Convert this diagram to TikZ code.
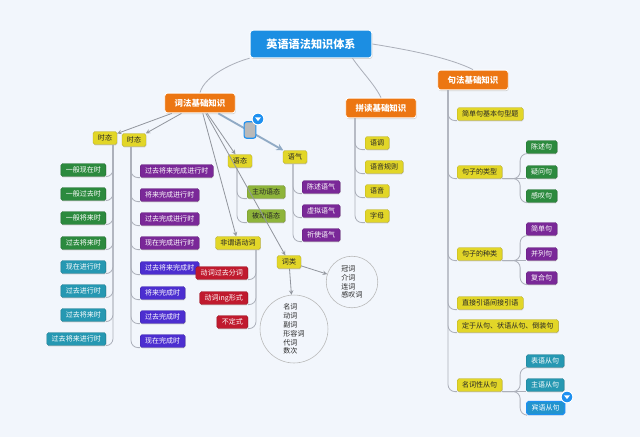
\documentclass[tikz,border=0pt]{standalone}
\usepackage{fontspec}
\newfontfamily\cjk{Noto Sans CJK SC}
\usepackage{tikz}
\usetikzlibrary{arrows}
\definecolor{cBack}{RGB}{242,246,252}
\definecolor{cBlu}{RGB}{28,142,226}
\definecolor{cOra}{RGB}{236,118,18}
\definecolor{cYel}{RGB}{226,214,40}
\definecolor{cGrn}{RGB}{44,138,62}
\definecolor{cTeal}{RGB}{38,152,178}
\definecolor{cPur}{RGB}{122,40,152}
\definecolor{cVio}{RGB}{76,46,208}
\definecolor{cOli}{RGB}{142,180,58}
\definecolor{cRed}{RGB}{192,26,46}
\definecolor{cLine}{RGB}{172,176,186}
\definecolor{cSel}{RGB}{30,144,240}
\tikzset{
  leaf/.style={rectangle, rounded corners=1.5pt, inner xsep=4.2pt, inner ysep=0pt,
    minimum height=11pt, text=white, fill=#1, draw=#1!80!black, line width=0.3pt,
    font=\cjk\fontsize{6}{7}\selectfont,
    preaction={fill=black!18, transform canvas={xshift=0.4pt,yshift=-0.8pt}}},
  topic/.style={leaf=cYel, text=black!85},
  main/.style={rectangle, rounded corners=2.5pt, fill=cOra, draw=white, line width=0.8pt,
    text=white, inner xsep=8.5pt, inner ysep=0pt, minimum height=17pt,
    font=\cjk\bfseries\fontsize{7.2}{8}\selectfont,
    preaction={fill=black!18, transform canvas={xshift=0.5pt,yshift=-1pt}}},
  root/.style={main, fill=cBlu, inner xsep=14pt, minimum height=23.5pt,
    font=\cjk\bfseries\fontsize{9.5}{10}\selectfont},
  bubble/.style={circle, draw=gray!55, line width=0.5pt, inner sep=0pt, align=left,
    text=black!85, font=\cjk\fontsize{6}{7.6}\selectfont},
  pin/.style={circle, fill=cSel, draw=white, line width=0.8pt, minimum size=10pt, inner sep=0pt},
  link/.style={draw=cLine, line width=0.7pt, rounded corners=6pt},
  arr/.style={draw=cLine!85!black, line width=0.7pt, ->, >=stealth}
}
\begin{document}
\begin{tikzpicture}[x=0.03cm,y=-0.03cm]
\fill[cBack] (0,0) rectangle (640,437);
\useasboundingbox (0,0) rectangle (640,437);

% main topics
\node[root] (R) at (311,44) {英语语法知识体系};
\node[main] (W) at (200,103) {词法基础知识};
\node[main] (P) at (381,108) {拼读基础知识};
\node[main] (J) at (473,80) {句法基础知识};
\draw[link] (R.south west) .. controls (235,62) and (205,75) .. (W.north);
\draw[link] ([xshift=-17pt]R.south east) .. controls (362,72) and (375,85) .. (P.north);
\draw[link] (R.east) .. controls (410,50) and (450,58) .. (J.north);

% tenses
\node[topic] (S1) at (105,138) {时态};
\node[topic] (S2) at (134,140) {时态};
\draw[arr] (W) -- (S1);
\draw[arr] (W) -- (S2);

\node[leaf=cGrn,anchor=east] (L1) at (106,170) {一般现在时};
\node[leaf=cGrn,anchor=east] (L2) at (106,194) {一般过去时};
\node[leaf=cGrn,anchor=east] (L3) at (106,218) {一般将来时};
\node[leaf=cGrn,anchor=east] (L4) at (106,243) {过去将来时};
\node[leaf=cTeal,anchor=east] (L5) at (106,267) {现在进行时};
\node[leaf=cTeal,anchor=east] (L6) at (106,291) {过去进行时};
\node[leaf=cTeal,anchor=east] (L7) at (106,315) {过去将来时};
\node[leaf=cTeal,anchor=east] (L8) at (106,339) {过去将来进行时};
\coordinate (tS1) at (113,145);
\draw[link] (tS1) |- (L1.south east);
\draw[link] (tS1) |- (L2.south east);
\draw[link] (tS1) |- (L3.south east);
\draw[link] (tS1) |- (L4.south east);
\draw[link] (tS1) |- (L5.south east);
\draw[link] (tS1) |- (L6.south east);
\draw[link] (tS1) |- (L7.south east);
\draw[link] (tS1) |- (L8.south east);

\node[leaf=cPur,anchor=west] (M1) at (140,171) {过去将来完成进行时};
\node[leaf=cPur,anchor=west] (M2) at (140,195) {将来完成进行时};
\node[leaf=cPur,anchor=west] (M3) at (140,219) {过去完成进行时};
\node[leaf=cPur,anchor=west] (M4) at (140,243) {现在完成进行时};
\node[leaf=cVio,anchor=west] (M5) at (140,268) {过去将来完成时};
\node[leaf=cVio,anchor=west] (M6) at (140,293) {将来完成时};
\node[leaf=cVio,anchor=west] (M7) at (140,317) {过去完成时};
\node[leaf=cVio,anchor=west] (M8) at (140,341) {现在完成时};
\coordinate (tS2) at (131,147);
\draw[link] (tS2) |- (M1.south west);
\draw[link] (tS2) |- (M2.south west);
\draw[link] (tS2) |- (M3.south west);
\draw[link] (tS2) |- (M4.south west);
\draw[link] (tS2) |- (M5.south west);
\draw[link] (tS2) |- (M6.south west);
\draw[link] (tS2) |- (M7.south west);
\draw[link] (tS2) |- (M8.south west);

% voice
\node[topic] (V) at (240,161) {语态};
\draw[arr] (W) -- (V);
\node[leaf=cOli,text=black!85,anchor=west] (V1) at (247,192) {主动语态};
\node[leaf=cOli,text=black!85,anchor=west] (V2) at (247,216) {被动语态};
\coordinate (tV) at (237,168);
\draw[link] (tV) |- (V1.south west);
\draw[link] (tV) |- (V2.south west);

% mood
\node[topic] (Q) at (295,157) {语气};
\draw[arr, draw=cLine!80!cSel, line width=1.6pt] (W) -- (Q);
\node[rectangle, rounded corners=2pt, fill=gray!55, draw=cSel, line width=1pt,
  minimum width=10pt, minimum height=14pt, inner sep=0pt] (G) at (250,130) {};
\node[pin] (G1) at (258,119) {};
\fill[white] ([shift={(-2.4pt,1.3pt)}]G1.center) -- ([shift={(2.4pt,1.3pt)}]G1.center)
  -- ([shift={(0pt,-1.8pt)}]G1.center) -- cycle;
\node[leaf=cPur,anchor=west] (Q1) at (302,187) {陈述语气};
\node[leaf=cPur,anchor=west] (Q2) at (302,211) {虚拟语气};
\node[leaf=cPur,anchor=west] (Q3) at (302,235) {祈使语气};
\coordinate (tQ) at (293,164);
\draw[link] (tQ) |- (Q1.south west);
\draw[link] (tQ) |- (Q2.south west);
\draw[link] (tQ) |- (Q3.south west);

% non-finite verbs
\node[topic] (F) at (238,243) {非谓语动词};
\draw[arr] (W) -- (F);
\node[leaf=cRed,anchor=east] (F1) at (248,273) {动词过去分词};
\node[leaf=cRed,anchor=east] (F2) at (248,298) {动词ing形式};
\node[leaf=cRed,anchor=east] (F3) at (248,322) {不定式};
\coordinate (tF) at (256,250);
\draw[link] (tF) |- (F1.south east);
\draw[link] (tF) |- (F2.south east);
\draw[link] (tF) |- (F3.south east);

% parts of speech
\node[topic] (C) at (289,262) {词类};
\draw[arr] (W) -- (C);
\node[bubble, minimum size=44pt] (K1) at (352,282) {冠词\\介词\\连词\\感叹词};
\node[bubble, minimum size=58pt] (K2) at (294,329) {名词\\动词\\副词\\形容词\\代词\\数次};
\draw[arr] (C) -- (K1);
\draw[arr] (C) -- (K2);

% spelling
\node[topic,anchor=west] (P1) at (365,143) {语调};
\node[topic,anchor=west] (P2) at (365,167) {语音规则};
\node[topic,anchor=west] (P3) at (365,191) {语音};
\node[topic,anchor=west] (P4) at (365,216) {字母};
\coordinate (tP) at (355,118);
\draw[link] (tP) |- (P1.south west);
\draw[link] (tP) |- (P2.south west);
\draw[link] (tP) |- (P3.south west);
\draw[link] (tP) |- (P4.south west);

% syntax
\node[topic,anchor=west] (J1) at (457,114) {简单句基本句型题};
\node[topic,anchor=west] (J2) at (457,172) {句子的类型};
\node[topic,anchor=west] (J3) at (457,254) {句子的种类};
\node[topic,anchor=west] (J4) at (457,303) {直接引语间接引语};
\node[topic,anchor=west] (J5) at (457,326) {定于从句、状语从句、倒装句};
\node[topic,anchor=west] (J6) at (457,385) {名词性从句};
\coordinate (tJ) at (448,90);
\draw[link] (tJ) |- (J1.south west);
\draw[link] (tJ) |- (J2.south west);
\draw[link] (tJ) |- (J3.south west);
\draw[link] (tJ) |- (J4.south west);
\draw[link] (tJ) |- (J5.south west);
\draw[link] (tJ) |- (J6.south west);

\node[leaf=cGrn,anchor=west] (J21) at (526,147) {陈述句};
\node[leaf=cGrn,anchor=west] (J22) at (526,172) {疑问句};
\node[leaf=cGrn,anchor=west] (J23) at (526,196) {感叹句};
\draw[link] (J2.south east) -| ([xshift=-5pt]J21.south west) -- (J21.south west);
\draw[link] (J2.south east) -- (J22.south west);
\draw[link] (J2.south east) -| ([xshift=-5pt]J23.south west) -- (J23.south west);

\node[leaf=cPur,anchor=west] (J31) at (526,229) {简单句};
\node[leaf=cPur,anchor=west] (J32) at (526,254) {并列句};
\node[leaf=cPur,anchor=west] (J33) at (526,278) {复合句};
\draw[link] (J3.south east) -| ([xshift=-5pt]J31.south west) -- (J31.south west);
\draw[link] (J3.south east) -- (J32.south west);
\draw[link] (J3.south east) -| ([xshift=-5pt]J33.south west) -- (J33.south west);

\node[leaf=cTeal,anchor=west] (J61) at (526,361) {表语从句};
\node[leaf=cTeal,anchor=west] (J62) at (526,385) {主语从句};
\node[leaf=cTeal!55!cSel,draw=cSel,line width=1.1pt,anchor=west] (J63) at (526,408) {宾语从句};
\draw[link] (J6.south east) -| ([xshift=-5pt]J61.south west) -- (J61.south west);
\draw[link] (J6.south east) -- (J62.south west);
\draw[link] (J6.south east) -| ([xshift=-5pt]J63.south west) -- (J63.south west);
\node[pin] (J64) at (567,397) {};
\fill[white] ([shift={(-2.4pt,1.3pt)}]J64.center) -- ([shift={(2.4pt,1.3pt)}]J64.center)
  -- ([shift={(0pt,-1.8pt)}]J64.center) -- cycle;
\end{tikzpicture}
\end{document}
